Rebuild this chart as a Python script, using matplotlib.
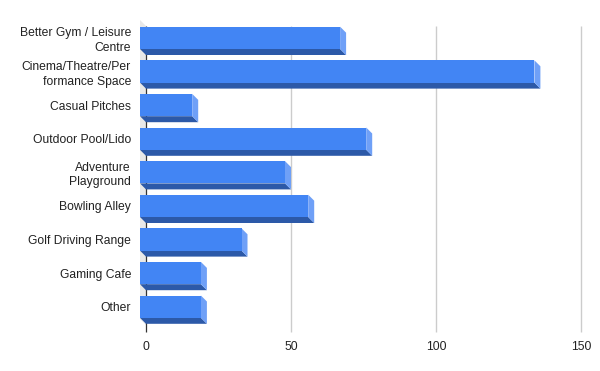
import matplotlib.pyplot as plt
from matplotlib.patches import Polygon

plt.rcParams['font.family'] = ['Liberation Sans', 'DejaVu Sans']

# Data
categories = ["Better Gym / Leisure\nCentre", "Cinema/Theatre/Per\nformance Space",
              "Casual Pitches", "Outdoor Pool/Lido", "Adventure\nPlayground",
              "Bowling Alley", "Golf Driving Range", "Gaming Cafe", "Other"]
values = [69, 136, 18, 78, 50, 58, 35, 21, 21]
ticks = [0, 50, 100, 150]

# Colours
front_col = "#4285f4"
bottom_col = "#2c59a8"
side_col = "#6fa0f7"
wall_col = "#e8e8e8"

W, H = 600, 371
fig = plt.figure(figsize=(W / 100, H / 100), dpi=100)

# axes placed in pixels (back plane)
left_px, right_px = 146, 581
top_px, bot_px = 26, 325
ax = fig.add_axes([left_px / W, 1 - bot_px / H, (right_px - left_px) / W, (bot_px - top_px) / H])

pitch = 33.6
c0 = 43.85
ytop = (top_px - c0) / pitch
ybot = (bot_px - c0) / pitch
ax.set_xlim(0, 150)
ax.set_ylim(ybot, ytop)

depth = 6
dx = depth * 150 / (right_px - left_px)
dy = depth / pitch
h = 22.3 / pitch

# left wall
ax.add_patch(Polygon([(0, ytop), (0, ybot), (-dx, ybot - dy), (-dx, ytop - dy)],
                     closed=True, facecolor=wall_col, lw=0, clip_on=False, zorder=1))

# gridlines
yext = (332 - c0) / pitch
ax.vlines(ticks[1:], ytop, yext, color="#cccccc", lw=1, clip_on=False, zorder=1)
ax.vlines([0], ytop, yext, color="#333333", lw=0.9, clip_on=False, zorder=1.5)

for i, v in enumerate(values):
    t, b = i - h / 2, i + h / 2
    # bottom face
    ax.add_patch(Polygon([(-dx, b - dy), (v - dx, b - dy), (v, b), (0, b)],
                         closed=True, facecolor=bottom_col, lw=0, clip_on=False, zorder=2))
    # right side face
    ax.add_patch(Polygon([(v - dx, t - dy), (v, t), (v, b), (v - dx, b - dy)],
                         closed=True, facecolor=side_col, lw=0, clip_on=False, zorder=2))
    # front face
    ax.add_patch(Polygon([(-dx, t - dy), (v - dx, t - dy), (v - dx, b - dy), (-dx, b - dy)],
                         closed=True, facecolor=front_col, lw=0, clip_on=False, zorder=3))

ax.set_yticks([i - dy for i in range(len(categories))])
ax.set_yticklabels(categories, fontsize=8.7, color="#222222", linespacing=1.3)
ax.set_xticks(ticks)
ax.set_xticklabels([str(t) for t in ticks], fontsize=8.7, color="#222222")
ax.tick_params(axis="y", length=0, pad=10.8)
ax.tick_params(axis="x", length=0, pad=11.5)
for s in ax.spines.values():
    s.set_visible(False)

fig.savefig("out.png", dpi=100)
